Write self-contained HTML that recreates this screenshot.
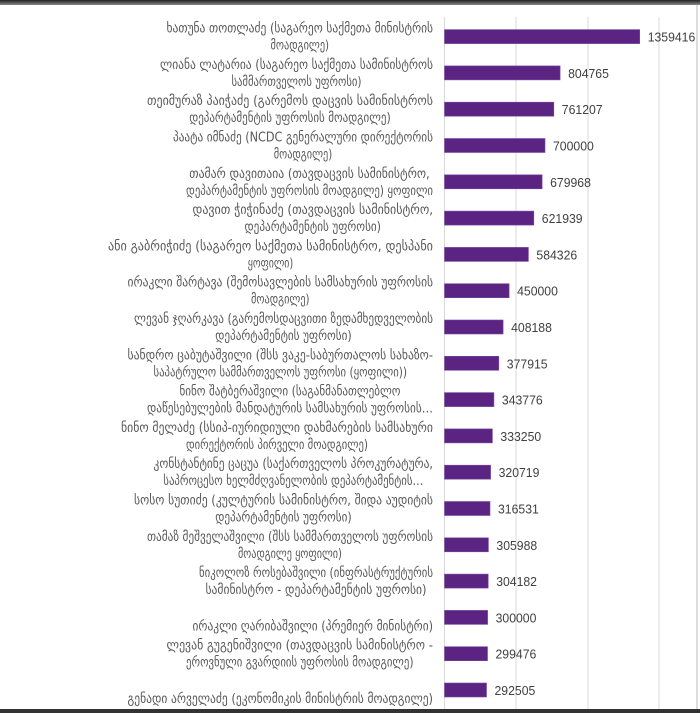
<!DOCTYPE html>
<html><head><meta charset="utf-8"><style>
html,body{margin:0;padding:0;background:#fff;}
body{width:700px;height:713px;overflow:hidden;position:relative;}
</style></head><body>
<svg id="s" width="700" height="713" xmlns="http://www.w3.org/2000/svg" style="position:absolute;left:0;top:0">
<defs><linearGradient id="tg" x1="0" y1="0" x2="0" y2="1"><stop offset="0" stop-color="#222"/><stop offset="1" stop-color="#888"/></linearGradient></defs>
<rect x="0" y="0" width="700" height="5" fill="url(#tg)"/>
<rect x="0" y="709" width="700" height="4" fill="#333"/>
<line x1="697" y1="5" x2="697" y2="709" stroke="#bbb" stroke-width="1"/>
<g stroke="#d9d9d9" stroke-width="1">
<line x1="444.5" y1="17" x2="444.5" y2="709"/>
<line x1="516" y1="17" x2="516" y2="709"/>
<line x1="588" y1="17" x2="588" y2="709"/>
<line x1="659" y1="17" x2="659" y2="709"/>
</g>
<g id="g"></g>
</svg>
<script>
var d=[
[1359416,["ხათუნა თოთლაძე (საგარეო საქმეთა მინისტრის","მოადგილე)"]],
[804765,["ლიანა ლატარია (საგარეო საქმეთა სამინისტროს","სამმართველოს უფროსი)"]],
[761207,["თეიმურაზ პაიჭაძე (გარემოს დაცვის სამინისტროს","დეპარტამენტის უფროსის მოადგილე)"]],
[700000,["პაატა იმნაძე (NCDC გენერალური დირექტორის","მოადგილე)"]],
[679968,["თამარ დავითაია (თავდაცვის სამინისტრო,","დეპარტამენტის უფროსის მოადგილე) ყოფილი"]],
[621939,["დავით ჭიჭინაძე (თავდაცვის სამინისტრო,","დეპარტამენტის უფროსი)"]],
[584326,["ანი გაბრიჭიძე (საგარეო საქმეთა სამინისტრო, დესპანი","ყოფილი)"]],
[450000,["ირაკლი შარტავა (შემოსავლების სამსახურის უფროსის","მოადგილე)"]],
[408188,["ლევან ჯღარკავა (გარემოსდაცვითი ზედამხედველობის","დეპარტამენტის უფროსი)"]],
[377915,["სანდრო ცაბუტაშვილი (შსს ვაკე-საბურთალოს სახაზო-","საპატრულო სამმართველოს უფროსი (ყოფილი))"]],
[343776,["ნინო შატბერაშვილი (საგანმანათლებლო","დაწესებულების მანდატურის სამსახურის უფროსის…"]],
[333250,["ნინო მელაძე (სსიპ-იურიდიული დახმარების სამსახური","დირექტორის პირველი მოადგილე)"]],
[320719,["კონსტანტინე ცაცუა (საქართველოს პროკურატურა,","საპროცესო ხელმძღვანელობის დეპარტამენტის…"]],
[316531,["სოსო სუთიძე (კულტურის სამინისტრო, შიდა აუდიტის","დეპარტამენტის უფროსი)"]],
[305988,["თამაზ მეშველაშვილი (შსს სამმართველოს უფროსის","მოადგილე ყოფილი)"]],
[304182,["ნიკოლოზ როსებაშვილი (ინფრასტრუქტურის","სამინისტრო - დეპარტამენტის უფროსი)"]],
[300000,[null,"ირაკლი ღარიბაშვილი (პრემიერ მინისტრი)"]],
[299476,["ლევან გუგენიშვილი (თავდაცვის სამინისტრო -","ეროვნული გვარდიის უფროსის მოადგილე)"]],
[292505,[null,"გენადი არველაძე (ეკონომიკის მინისტრის მოადგილე)"]]
];
var g=document.getElementById('g'),h='';
d.forEach(function(r,i){
 var c=36.6+i*36.3, w=r[0]/500000*71.8;
 h+='<rect x="444.5" y="'+(c-7)+'" width="'+w.toFixed(1)+'" height="14" fill="#5b2483" stroke="#7a4aa0" stroke-width="0.6"/>';
 var s=String(r[0]);
 h+='<text x="'+(444.5+w+8).toFixed(1)+'" y="'+(c+5)+'" textLength="'+(s.length*6.8).toFixed(1)+'" lengthAdjust="spacingAndGlyphs" font-family="Liberation Sans, DejaVu Sans, sans-serif" font-size="13" fill="#404040">'+s+'</text>';
 var ls=r[1],mw=0;ls.forEach(function(l){if(l)mw=Math.max(mw,l.length*6.5);});
 var cx=433-mw/2;
 ls.forEach(function(l,j){ if(!l)return;
  var y=j==0?c-4:c+13;
  h+='<text x="'+cx.toFixed(1)+'" y="'+y+'" text-anchor="middle" textLength="'+(l.length*6.5).toFixed(1)+'" lengthAdjust="spacingAndGlyphs" font-family="DejaVu Sans, sans-serif" font-size="13.5" fill="#595959">'+l+'</text>';
 });
});
g.innerHTML=h;
</script>
</body></html>
